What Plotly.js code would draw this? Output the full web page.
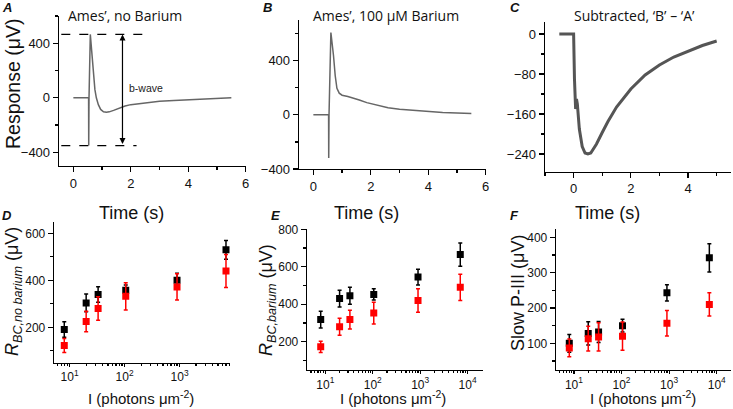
<!DOCTYPE html>
<html>
<head>
<meta charset="utf-8">
<script src="https://cdn.plot.ly/plotly-3.0.1.min.js"></script>
<style>html,body{margin:0;padding:0;background:#fff;}#chart{position:relative;width:733px;height:409px;}
.ticklbl{position:absolute;z-index:20;font-family:'Liberation Sans',Arial,sans-serif;font-size:13px;color:#111;white-space:nowrap;transform:translateX(-50%);pointer-events:none;}</style>
</head>
<body>
<div id="chart"></div>
<script>
// ---- Panel A: Ames', no Barium (time s, response uV)
const tA = [0, 0.53, 0.535, 0.545, 0.59, 0.63, 0.67, 0.70, 0.75, 0.80, 0.87, 0.95, 1.05, 1.15, 1.25, 1.4, 1.6, 1.8, 2.0, 2.5, 3.0, 3.5, 4.0, 4.5, 5.0, 5.5];
const vA = [0, 0, -350, 0, 465, 360, 250, 160, 60, 0, -50, -85, -102, -106, -103, -92, -75, -60, -50, -36, -26, -19, -13, -8, -4, 0];
// ---- Panel B: Ames', 100 uM Barium
const tB = [0, 0.53, 0.535, 0.545, 0.61, 0.65, 0.70, 0.76, 0.82, 0.9, 1.0, 1.2, 1.4, 1.6, 1.86, 2.2, 2.6, 3.0, 3.5, 4.0, 4.5, 5.0, 5.5];
const vB = [0, 0, -318, 0, 608, 540, 440, 290, 195, 160, 145, 135, 125, 110, 90, 70, 52, 42, 33, 24, 18, 14, 10];
// ---- Panel C: Subtracted, 'B' - 'A'
const tC = [-0.5, -0.3, -0.1, 0, 0.03, 0.07, 0.1, 0.13, 0.2, 0.3, 0.4, 0.5, 0.6, 0.7, 0.8, 1.0, 1.2, 1.5, 2.0, 2.5, 3.0, 3.5, 4.0, 4.5, 5.0];
const vC = [0, 0, 0, 0, -90, -150, -130, -140, -190, -225, -238, -240, -238, -230, -220, -197, -175, -146, -110, -82, -62, -46, -34, -23, -14];
// ---- Panels D-F: intensity series
const intensity = [8, 20, 33, 105, 900, 7000];
const dBlack = [191, 304, 340, 358, 400, 530];
const dBlackErr = [33, 38, 33, 22, 30, 40];
const dRed = [123, 225, 280, 332, 372, 440];
const dRedErr = [30, 44, 50, 58, 56, 70];
const eBlack = [318, 430, 445, 452, 545, 665];
const eBlackErr = [45, 45, 45, 30, 42, 62];
const eRed = [173, 280, 318, 353, 420, 490];
const eRedErr = [30, 45, 50, 58, 63, 70];
const fBlack = [100, 128, 132, 150, 243, 342];
const fBlackErr = [25, 33, 30, 18, 23, 40];
const fRed = [87, 113, 118, 120, 157, 210];
const fRedErr = [25, 35, 40, 40, 36, 33];
const timeTicks = [0, 2, 4, 6];
const timeTickText = ['0', '2', '4', '6'];
const logTickVals = [10, 100, 1000, 10000];
const logTickText = ['10<sup>1</sup>', '10<sup>2</sup>', '10<sup>3</sup>', '10<sup>4</sup>'];

const W = 733, H = 409;
const FONT = "'Liberation Sans', Arial, sans-serif";
const SANS2 = "'Open Sans', sans-serif";
const px = x => x / W;
const py = y => 1 - y / H;

const minorLog = [];
for (let d = 1; d <= 1000; d *= 10) for (let k = 2; k <= 9; k++) minorLog.push(k * d);

function linAxis(domain, range, dtick, mdtick, anchor, fs, tv, tt) {
  const a = {domain: domain, range: range, anchor: anchor, tick0: 0, dtick: dtick,
    ticks: 'outside', ticklen: 5, tickwidth: 1.2, tickcolor: '#000', ticklabeloverflow: 'allow',
    minor: {ticks: 'outside', ticklen: 3, dtick: mdtick, tick0: 0, tickcolor: '#000', showgrid: false},
    showline: true, linecolor: '#000', linewidth: 1.3, showgrid: false, zeroline: false,
    tickfont: {family: FONT, size: fs, color: '#111'}};
  if (tv) { a.tickmode = 'array'; a.tickvals = tv; }
  if (tt) { a.ticktext = tt; }
  return a;
}
function logAxis(domain, range, anchor) {
  return {type: 'log', domain: domain, range: range, anchor: anchor,
    tickmode: 'array', tickvals: logTickVals, ticktext: logTickText, ticklabeloverflow: 'allow',
    ticks: 'outside', ticklen: 3, tickwidth: 1.2, tickcolor: '#000',
    minor: {tickmode: 'array', tickvals: minorLog, ticks: 'outside', ticklen: 2, tickcolor: '#000', showgrid: false},
    showline: true, linecolor: '#000', linewidth: 1.3, showgrid: false, zeroline: false,
    tickfont: {family: FONT, size: 12, color: '#111'}};
}

const traces = [
  {x: tA, y: vA, xaxis: 'x', yaxis: 'y', mode: 'lines', line: {color: '#666', width: 1.5}},
  {x: tB, y: vB, xaxis: 'x2', yaxis: 'y2', mode: 'lines', line: {color: '#666', width: 1.5}},
  {x: tC, y: vC, xaxis: 'x3', yaxis: 'y3', mode: 'lines', line: {color: '#555', width: 3}},
];
function pts(ax, ay, y, err, color) {
  return {x: intensity, y: y, xaxis: ax, yaxis: ay, mode: 'markers',
    marker: {symbol: 'square', size: 7, color: color},
    error_y: {type: 'data', array: err, visible: true, color: color, thickness: 1.5, width: 2}};
}
traces.push(pts('x4', 'y4', dBlack, dBlackErr, '#000'));
traces.push(pts('x4', 'y4', dRed, dRedErr, '#ff0000'));
traces.push(pts('x5', 'y5', eBlack, eBlackErr, '#000'));
traces.push(pts('x5', 'y5', eRed, eRedErr, '#ff0000'));
traces.push(pts('x6', 'y6', fBlack, fBlackErr, '#000'));
traces.push(pts('x6', 'y6', fRed, fRedErr, '#ff0000'));

const peakA = Math.max(...vA), troughA = Math.min(...vA);

function ann(text, x, y, size, opts) {
  return Object.assign({text: text, x: px(x), y: py(y), xref: 'paper', yref: 'paper',
    showarrow: false, xanchor: 'center', yanchor: 'middle',
    font: {family: FONT, size: size, color: '#111'}}, opts || {});
}
const tfont = {family: SANS2, size: 14, color: '#111'};
const annotations = [
  ann('<b><i>A</i></b>', 7, 7, 13), ann('<b><i>B</i></b>', 267, 7, 13), ann('<b><i>C</i></b>', 515, 7, 13),
  ann('<b><i>D</i></b>', 7, 215, 13), ann('<b><i>E</i></b>', 275, 215, 13), ann('<b><i>F</i></b>', 514, 215, 13),
  ann('Ames’, no Barium', 125, 16, 14, {font: tfont}),
  ann('Ames’, 100 μM Barium', 386, 16, 14, {font: tfont}),
  ann('Subtracted, ‘B’ – ‘A’', 634, 15, 14, {font: tfont}),
  ann('Response (μV)', 13, 84, 19.5, {textangle: -90}),
  ann('Time (s)', 131, 213, 18), ann('Time (s)', 366, 213, 18), ann('Time (s)', 607, 213, 18),
  ann('I (photons μm<sup>-2</sup>)', 141, 397, 15), ann('I (photons μm<sup>-2</sup>)', 393, 397, 15), ann('I (photons μm<sup>-2</sup>)', 643, 397, 15),
  ann('<i>R</i><sub><i>BC,no barium</i></sub> (μV)', 13, 292, 18, {textangle: -90}),
  ann('<i>R</i><sub><i>BC,barium</i></sub> (μV)', 267, 300, 18, {textangle: -90}),
  ann('Slow P-III (μV)', 518, 293, 18, {textangle: -90}),
  {text: 'b-wave', x: 1.86, y: 70, xref: 'x', yref: 'y', showarrow: false, xanchor: 'left', yanchor: 'middle',
    font: {family: FONT, size: 10.5, color: '#222'}},
  {text: '', x: 1.71, y: peakA, ax: 1.71, ay: troughA, xref: 'x', yref: 'y', axref: 'x', ayref: 'y',
    showarrow: true, arrowhead: 2, arrowside: 'end+start', arrowsize: 1, arrowwidth: 1.2, arrowcolor: '#000', standoff: 0, startstandoff: 0},
];
const shapes = [
  {type: 'line', xref: 'x', yref: 'y', x0: -0.42, x1: 2.56, y0: peakA, y1: peakA, line: {color: '#000', width: 1.3, dash: 'dash'}},
  {type: 'line', xref: 'x', yref: 'y', x0: -0.42, x1: 2.2, y0: troughA, y1: troughA, line: {color: '#000', width: 1.3, dash: 'dash'}},
];

const layout = {
  width: W, height: H, margin: {l: 0, r: 0, t: 0, b: 0}, showlegend: false,
  paper_bgcolor: '#fff', plot_bgcolor: 'rgba(0,0,0,0)',
  xaxis: linAxis([px(59), px(246)], [-0.5, 6.01], 2, 1, 'y', 13, timeTicks, ['0', '2', '4', '']),
  yaxis: linAxis([py(166), py(16)], [-500, 600], 400, 200, 'x', 13),
  xaxis2: linAxis([px(299), px(486)], [-0.5, 6.01], 2, 1, 'y2', 13, timeTicks, timeTickText),
  yaxis2: linAxis([py(169), py(20)], [-400, 700], 400, 200, 'x2', 13),
  xaxis3: linAxis([px(545), px(731)], [-1, 5.5], 2, 1, 'y3', 13),
  yaxis3: linAxis([py(171.5), py(21.5)], [-275, 25], 80, 40, 'x3', 13),
  xaxis4: logAxis([px(54), px(230)], [0.716, 3.918], 'y4'),
  yaxis4: linAxis([py(362.6), py(221.6)], [50, 650], 200, 100, 'x4', 12),
  xaxis5: logAxis([px(307), px(483)], [0.614, 4.324], 'y5'),
  yaxis5: linAxis([py(369.8), py(229.3)], [50, 800], 200, 100, 'x5', 12),
  xaxis6: logAxis([px(556), px(731)], [0.624, 4.30], 'y6'),
  yaxis6: linAxis([py(369.8), py(228.5)], [25, 425], 100, 50, 'x6', 12),
  annotations: annotations, shapes: shapes,
};
Plotly.newPlot('chart', traces, layout, {displayModeBar: false, staticPlot: true}).then(gd => {
  // Panel A's last time tick label ("6"): placed with the axis' own scale, level with the "4" label
  const xa = gd._fullLayout.xaxis;
  const host = gd.getBoundingClientRect();
  let ref = null;
  gd.querySelectorAll('.xtick text').forEach(t => {
    const b = t.getBoundingClientRect();
    if (t.textContent === timeTickText[2] && b.width > 0 && b.left - host.left < 246) ref = b;
  });
  const xPix = xa._offset + xa.l2p(timeTicks[3]);
  const top = ref ? ref.top - host.top : 174;
  const hgt = ref ? ref.height : 15;
  const d = document.createElement('div');
  d.className = 'ticklbl';
  d.textContent = timeTickText[3];
  d.style.left = xPix + 'px';
  d.style.top = top + 'px';
  d.style.lineHeight = hgt + 'px';
  gd.appendChild(d);
});
</script>
</body>
</html>
